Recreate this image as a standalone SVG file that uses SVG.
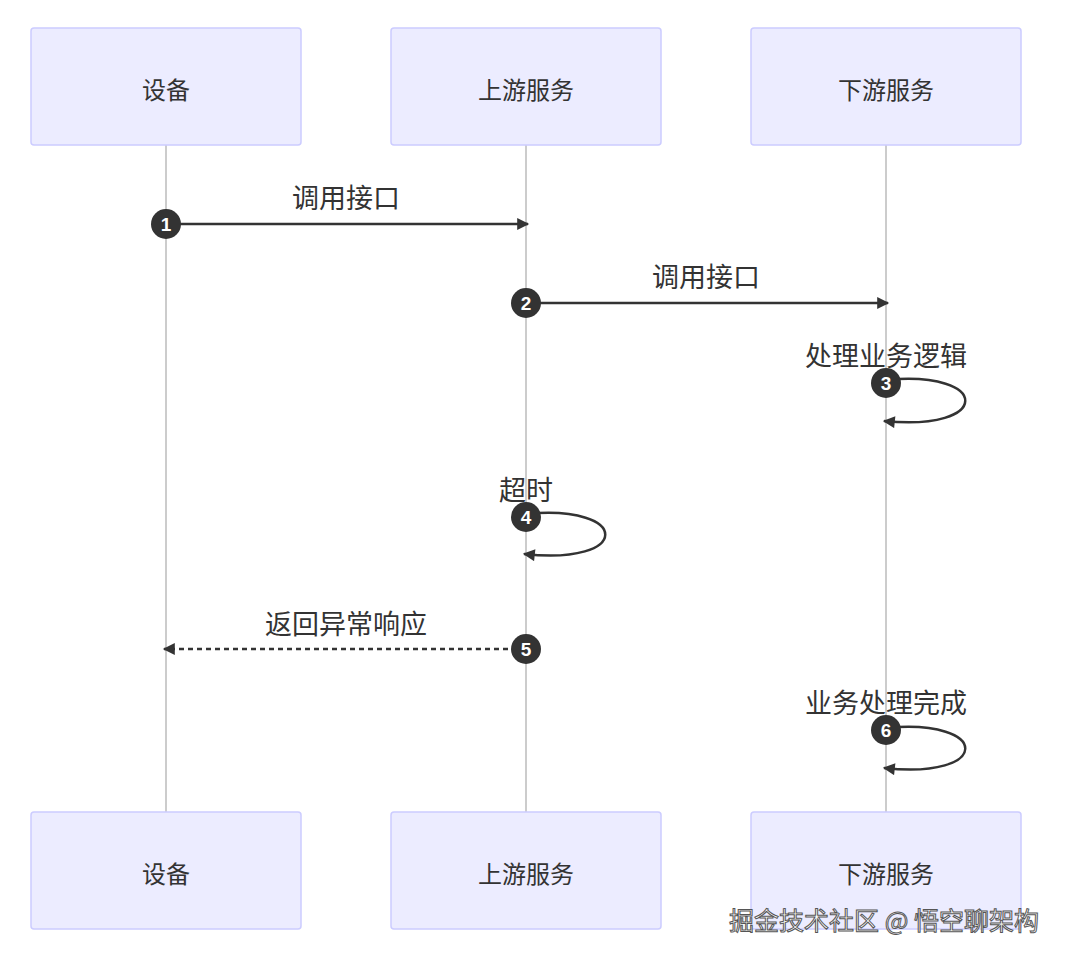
<svg xmlns="http://www.w3.org/2000/svg" width="1067" height="963" viewBox="0 0 1067 963">
<defs>
<style>
.actor{fill:#ECECFF;stroke:#CCCCFF;stroke-width:1.5}
.at{font-family:"Noto Sans CJK SC",sans-serif;font-size:24px;fill:#333;text-anchor:middle;dominant-baseline:central}
.lbl{font-family:"Noto Sans CJK SC",sans-serif;font-size:27px;fill:#333;text-anchor:middle}
.life{stroke:#999;stroke-width:1}
.msg{stroke:#333;stroke-width:2.5;fill:none}
.num{fill:#333}
.nt{font-family:"Liberation Sans",sans-serif;font-size:19px;font-weight:bold;fill:#fff;text-anchor:middle;dominant-baseline:central}
</style>
<marker id="ah" viewBox="0 0 10 10" refX="9" refY="5" markerWidth="14" markerHeight="12" orient="auto-start-reverse" markerUnits="userSpaceOnUse">
<path d="M0,0 L10,5 L0,10 z" fill="#333"/>
</marker>
</defs>
<rect width="1067" height="963" fill="#fff"/>
<g id="lifelines">
<line class="life" x1="166" y1="145" x2="166" y2="812"/>
<line class="life" x1="526" y1="145" x2="526" y2="812"/>
<line class="life" x1="886" y1="145" x2="886" y2="812"/>
</g>
<g id="actor-device-top"><rect class="actor" x="31" y="28" width="270" height="117" rx="3"/><text class="at" x="166" y="88">设备</text></g>
<g id="actor-up-top"><rect class="actor" x="391" y="28" width="270" height="117" rx="3"/><text class="at" x="526" y="88">上游服务</text></g>
<g id="actor-down-top"><rect class="actor" x="751" y="28" width="270" height="117" rx="3"/><text class="at" x="886" y="88">下游服务</text></g>
<g id="actor-device-bottom"><rect class="actor" x="31" y="812" width="270" height="117" rx="3"/><text class="at" x="166" y="872">设备</text></g>
<g id="actor-up-bottom"><rect class="actor" x="391" y="812" width="270" height="117" rx="3"/><text class="at" x="526" y="872">上游服务</text></g>
<g id="actor-down-bottom"><rect class="actor" x="751" y="812" width="270" height="117" rx="3"/><text class="at" x="886" y="872">下游服务</text></g>
<g id="connectors">
<line class="msg" x1="166" y1="224" x2="528" y2="224" marker-end="url(#ah)"/>
<text class="lbl" x="346" y="208">调用接口</text>
<line class="msg" x1="526" y1="303" x2="888" y2="303" marker-end="url(#ah)"/>
<text class="lbl" x="706" y="287">调用接口</text>
<path class="msg" d="M886,380 C992,370 992,432 884,421" marker-end="url(#ah)"/>
<text class="lbl" x="886" y="366">处理业务逻辑</text>
<path class="msg" d="M526,514 C632,504 632,566 524,554" marker-end="url(#ah)"/>
<text class="lbl" x="526" y="500">超时</text>
<line class="msg" x1="526" y1="649" x2="164" y2="649" stroke-dasharray="5,4" marker-end="url(#ah)"/>
<text class="lbl" x="346" y="634">返回异常响应</text>
<path class="msg" d="M886,728 C992,718 992,780 884,768" marker-end="url(#ah)"/>
<text class="lbl" x="886" y="713">业务处理完成</text>
</g>
<g id="numbers">
<circle class="num" cx="166" cy="224" r="15"/><text class="nt" x="166" y="224">1</text>
<circle class="num" cx="526" cy="303" r="15"/><text class="nt" x="526" y="303">2</text>
<circle class="num" cx="886" cy="383" r="15"/><text class="nt" x="886" y="383">3</text>
<circle class="num" cx="526" cy="517" r="15"/><text class="nt" x="526" y="517">4</text>
<circle class="num" cx="526" cy="649" r="15"/><text class="nt" x="526" y="649">5</text>
<circle class="num" cx="886" cy="730" r="15"/><text class="nt" x="886" y="730">6</text>
</g>
<g id="watermark">
<text x="884" y="930" font-family="Noto Sans CJK SC,sans-serif" font-size="25" fill="#fff" stroke="#555" stroke-width="1" text-anchor="middle">掘金技术社区 @ 悟空聊架构</text>
</g>
</svg>
